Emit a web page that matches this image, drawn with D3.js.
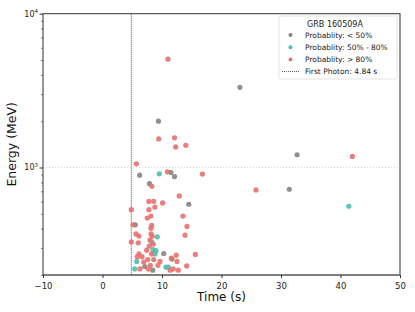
<!DOCTYPE html>
<html>
<head>
<meta charset="utf-8">
<script src="https://cdn.jsdelivr.net/npm/d3@7"></script>
<style>
  body { margin: 0; background: white; }
  text { font-family: "DejaVu Sans", sans-serif; }
</style>
</head>
<body>
<div id="chart"></div>
<script>
// photons with probability < 50%
let lowPts = [
    {t:9.4,  e:2000}, {t:6.25, e:891}, {t:11.5, e:927}, {t:12.1, e:873},
    {t:7.9,  e:785},  {t:14.5, e:577}, {t:23.1, e:3320}, {t:32.7, e:1210},
    {t:31.4, e:722},  {t:5.51, e:424}, {t:10.3, e:276}, {t:11.68, e:254},
    {t:7.1,  e:227},  {t:8.44, e:215}
];
// 50% - 80%
let midPts = [
    {t:9.55, e:910}, {t:41.4, e:560}, {t:9.21, e:354}, {t:8.27, e:328},
    {t:8.99, e:288}, {t:8.82, e:274}, {t:5.75, e:245}, {t:10.67, e:225},
    {t:11.06, e:225}, {t:5.41, e:219}, {t:8.5, e:292}
];
// > 80%
let highPts = [
    {t:11.0, e:5060}, {t:9.45, e:1534}, {t:12.1, e:1560}, {t:12.3, e:1360},
    {t:14.0, e:1393}, {t:5.7, e:1057}, {t:10.9, e:937}, {t:16.8, e:906},
    {t:8.3, e:755},   {t:12.9, e:653}, {t:7.8, e:602}, {t:8.6, e:603},
    {t:10.1, e:588},  {t:8.8, e:553}, {t:4.84, e:532}, {t:7.8, e:532},
    {t:42.0, e:1180}, {t:25.8, e:715}, {t:8.15, e:483}, {t:7.53, e:469},
    {t:13.53, e:483}, {t:5.13, e:424}, {t:8.27, e:420}, {t:14.2, e:414},
    {t:8.15, e:402},  {t:5.63, e:370}, {t:6.13, e:358}, {t:8.15, e:370},
    {t:8.37, e:358},  {t:13.87, e:363}, {t:4.84, e:328}, {t:6.02, e:324},
    {t:7.98, e:338},  {t:8.54, e:318}, {t:7.87, e:308}, {t:7.43, e:290},
    {t:15.6, e:272},  {t:6.13, e:274}, {t:5.85, e:263}, {t:6.64, e:263},
    {t:12.4, e:269},  {t:11.56, e:258}, {t:7.6, e:252}, {t:8.61, e:252},
    {t:6.92, e:243},  {t:9.66, e:245}, {t:12.52, e:245}, {t:14.15, e:229},
    {t:9.33, e:231},  {t:8.03, e:231}, {t:6.3, e:219}, {t:7.7, e:219},
    {t:11.39, e:215}, {t:12.74, e:215}, {t:11.9, e:219}, {t:8.27, e:274}
];
let firstPhoton = 4.84;
let xTicks = [-10, 0, 10, 20, 30, 40, 50];
let legendLabels = ["Probablity: < 50%", "Probablity: 50% - 80%", "Probablity: > 80%"];
let grbName = "GRB 160509A";

let larg = 415;
let alt = 312;
let esq = 43, dir = 400, topo = 13.7, base = 275;

let cores = ["#848484", "#4dbfae", "#e8706e"];

let canvas = d3.select("#chart")
                .append("svg")
                .attr("width", larg)
                .attr("height", alt);

var escX = d3.scaleLinear()
                .domain([-10, 50])
                .range([esq, dir]);

var escY = d3.scaleLog()
                .domain([200, 10000])
                .range([base, topo]);

// grid line at 10^3
canvas.append("line")
        .attr("x1", esq).attr("x2", dir)
        .attr("y1", escY(1000)).attr("y2", escY(1000))
        .attr("stroke", "#cccccc")
        .attr("stroke-width", 0.8)
        .attr("stroke-dasharray", "1,2");

canvas.append("clipPath")
        .attr("id", "area")
        .append("rect")
        .attr("x", esq).attr("y", topo)
        .attr("width", dir-esq).attr("height", base-topo);

// first photon
canvas.append("line")
        .attr("x1", escX(firstPhoton)).attr("x2", escX(firstPhoton))
        .attr("y1", topo).attr("y2", base)
        .attr("stroke", "#222")
        .attr("stroke-width", 0.8)
        .attr("stroke-dasharray", "1,1");

var pontos = canvas.append("g").attr("clip-path", "url(#area)");
[lowPts, midPts, highPts].forEach(function(serie, i){
    pontos.selectAll(".s"+i)
        .data(serie)
        .enter()
            .append("circle")
            .attr("class", "s"+i)
            .attr("cx", (d) => escX(d.t))
            .attr("cy", (d) => escY(d.e))
            .attr("r", 2.6)
            .attr("fill", cores[i])
            .attr("opacity", 0.9);
});

// frame
canvas.append("rect")
        .attr("x", esq).attr("y", topo)
        .attr("width", dir-esq).attr("height", base-topo)
        .attr("fill", "none")
        .attr("stroke", "#333")
        .attr("stroke-width", 1);
canvas.append("line")
        .attr("x1", esq).attr("x2", dir)
        .attr("y1", base).attr("y2", base)
        .attr("stroke", "#666")
        .attr("stroke-width", 1.2);

var eixoX = d3.axisBottom(escX)
                .tickValues(xTicks)
                .tickSize(3)
                .tickFormat((d) => d < 0 ? "\u2212" + Math.abs(d) : d);
canvas.append("g")
        .attr("transform", "translate(0," + base + ")")
        .call(eixoX)
        .call(g => g.select(".domain").remove())
        .call(g => g.selectAll("line").attr("stroke", "#333"))
        .call(g => g.selectAll("text").attr("font-size", "8.5px").attr("fill", "#222").attr("dy", "0.9em")
                                       .style("font-family", "DejaVu Sans"));

// y ticks: major and minor
let minores = [];
for (let dec = 100; dec < 10000; dec *= 10) {
    for (let k = 2; k <= 9; k++) {
        if (dec*k >= 200 && dec*k < 10000 && k*dec != 1000) minores.push(dec*k);
    }
}
var eixoYmin = d3.axisLeft(escY).tickValues(minores).tickSize(2).tickFormat("");
canvas.append("g")
        .attr("transform", "translate(" + esq + ",0)")
        .call(eixoYmin)
        .call(g => g.select(".domain").remove())
        .call(g => g.selectAll("line").attr("stroke", "#333").attr("stroke-width", 0.6));

var eixoY = d3.axisLeft(escY).tickValues([1000, 10000]).tickSize(3.5).tickFormat("");
var gy = canvas.append("g")
        .attr("transform", "translate(" + esq + ",0)")
        .call(eixoY)
        .call(g => g.select(".domain").remove())
        .call(g => g.selectAll("line").attr("stroke", "#333"));

[1000, 10000].forEach(function(v){
    let t = canvas.append("text")
        .attr("x", esq - 5)
        .attr("y", escY(v) + 3)
        .attr("text-anchor", "end")
        .attr("font-size", "8px")
        .attr("fill", "#222");
    t.append("tspan").text("10");
    t.append("tspan").attr("font-size", "5.5px").attr("dy", "-3.5").text(Math.log10(v));
});

// axis labels
canvas.append("text")
        .attr("x", (esq+dir)/2)
        .attr("y", 301)
        .attr("text-anchor", "middle")
        .attr("font-size", "12px")
        .attr("fill", "#111")
        .text("Time (s)");
canvas.append("text")
        .attr("transform", "translate(16," + ((topo+base)/2) + ") rotate(-90)")
        .attr("text-anchor", "middle")
        .attr("font-size", "12.5px")
        .attr("fill", "#111")
        .text("Energy (MeV)");

// legend
let leg = canvas.append("g").attr("transform", "translate(279,16)");
leg.append("rect")
    .attr("width", 118).attr("height", 63)
    .attr("rx", 2)
    .attr("fill", "white").attr("fill-opacity", 0.85)
    .attr("stroke", "#dddddd").attr("stroke-width", 0.8);
leg.append("text")
    .attr("x", 56).attr("y", 11)
    .attr("text-anchor", "middle")
    .attr("font-size", "8px")
    .attr("fill", "#222")
    .text(grbName);
legendLabels.forEach(function(l, i){
    leg.append("circle")
        .attr("cx", 11.5).attr("cy", 19 + i*12.3)
        .attr("r", 2)
        .attr("fill", cores[i]);
    leg.append("text")
        .attr("x", 26).attr("y", 21.8 + i*12.3)
        .attr("font-size", "7.5px")
        .attr("fill", "#222")
        .text(l);
});
leg.append("line")
    .attr("x1", 3).attr("x2", 20)
    .attr("y1", 55.5).attr("y2", 55.5)
    .attr("stroke", "#333").attr("stroke-width", 0.8)
    .attr("stroke-dasharray", "1,1");
leg.append("text")
    .attr("x", 26).attr("y", 58.3)
    .attr("font-size", "7.5px")
    .attr("fill", "#222")
    .text("First Photon: " + firstPhoton + " s");
</script>
</body>
</html>
